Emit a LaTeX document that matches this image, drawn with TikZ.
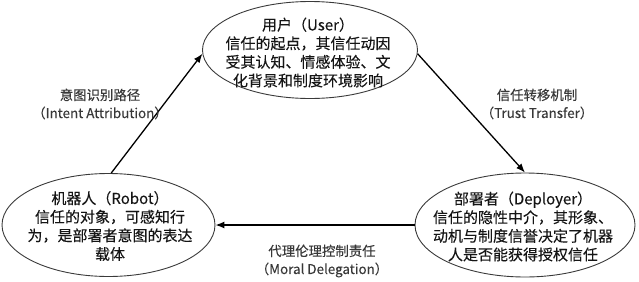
\documentclass[tikz,border=0pt]{standalone}
\usepackage{fontspec}
\setmainfont{Noto Sans CJK SC}[FakeBold=0.15]
\usetikzlibrary{shapes.geometric,arrows.meta}
\definecolor{txt}{HTML}{151515}
\definecolor{edge}{HTML}{3A3A3A}
\tikzset{
  ell/.style={draw=edge, line width=0.9pt, ellipse, inner sep=0pt},
  etext/.style={align=center, text=txt, font=\fontsize{15}{18.6}\selectfont, inner sep=0pt},
  lab/.style={align=center, text=txt!85, font=\fontsize{13.4}{18}\selectfont, inner sep=0pt},
  arr/.style={draw=black, line width=1.3pt, -{Latex[length=9pt,width=7pt]}}
}
\begin{document}
\begin{tikzpicture}[x=1pt,y=-1pt]
\useasboundingbox (0,0) rectangle (639,281);
\node[ell, minimum width=215pt, minimum height=97pt] (user) at (310,50) {};
\node[ell, minimum width=213pt, minimum height=103pt] (robot) at (108.5,225) {};
\node[ell, minimum width=220pt, minimum height=104pt] (deployer) at (525,225) {};
\node[etext] (usert) at (308,52.5) {用户（User）\\信任的起点，其信任动因\\受其认知、情感体验、文\\化背景和制度环境影响};
\node[etext] (robott) at (110,226) {机器人（Robot）\\信任的对象，可感知行\\为，是部署者意图的表达\\载体};
\node[etext] (deployert) at (523,226.5) {部署者（Deployer）\\信任的隐性中介，其形象、\\动机与制度信誉决定了机器\\人是否能获得授权信任};
\draw[arr] (robot.87) -- (user.182);
\draw[arr] (user.-2) -- (deployer.90);
\draw[arr] (deployer.180) -- (robot.0);
\node[lab] (l1) at (100,104) {意图识别路径\\（Intent Attribution）};
\node[lab] (l2) at (537,104) {信任转移机制\\（Trust Transfer）};
\node[lab] (l3) at (322,261) {代理伦理控制责任\\（Moral Delegation）};
\end{tikzpicture}
\end{document}
